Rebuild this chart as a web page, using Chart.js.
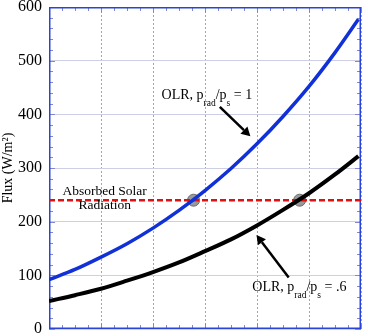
<!DOCTYPE html>
<html>
<head>
<meta charset="utf-8">
<script src="https://cdn.jsdelivr.net/npm/chart.js@4"></script>
<style>
  html, body { margin: 0; padding: 0; background: #fff; }
  #wrap { width: 368px; height: 336px; }
</style>
</head>
<body>
<div id="wrap"><canvas id="chart" width="368" height="336"></canvas></div>
<script>
const xValues = [0, 0.5, 1, 1.5, 2, 2.5, 3, 3.5, 4, 4.5, 5, 5.5, 5.95];
const olrFull = [92, 111, 134, 159, 188, 221, 258, 299, 345, 396, 452, 515, 577];
const olrPartial = [52, 63, 75, 90, 106, 124, 145, 167, 193, 222, 253, 288, 322];
const absorbed = 240;
const crossings = [2.78, 4.82];
const yTicks = [0, 100, 200, 300, 400, 500, 600];

const serif = "'Liberation Serif', 'DejaVu Serif', serif";

function toPoints(xs, ys) {
  return xs.map((x, i) => ({ x: x, y: ys[i] }));
}

// minor ticks, border and annotations
const extras = {
  id: "extras",
  beforeDatasetsDraw(chart) {
    const { ctx, chartArea: a, scales: { x, y } } = chart;
    ctx.save();
    ctx.strokeStyle = "#8088d0";
    ctx.lineWidth = 1;
    for (let v = 0; v <= 6.001; v += 0.25) {
      const px = Math.round(x.getPixelForValue(v)) + 0.5;
      const len = Math.abs(v - Math.round(v)) < 0.01 ? 6 : 4;
      ctx.beginPath();
      ctx.moveTo(px, a.bottom); ctx.lineTo(px, a.bottom - len);
      ctx.moveTo(px, a.top); ctx.lineTo(px, a.top + len);
      ctx.stroke();
    }
    for (let v = 0; v <= 600; v += 20) {
      const py = Math.round(y.getPixelForValue(v)) + 0.5;
      const len = v % 100 === 0 ? 6 : 4;
      ctx.beginPath();
      ctx.moveTo(a.left, py); ctx.lineTo(a.left + len, py);
      ctx.moveTo(a.right, py); ctx.lineTo(a.right - len, py);
      ctx.stroke();
    }
    ctx.strokeStyle = "#2a44d8";
    ctx.lineWidth = 1.5;
    ctx.strokeRect(a.left + 0.75, a.top + 0.75, a.right - a.left - 1.5, a.bottom - a.top - 1.5);
    ctx.restore();
  },
  afterDatasetsDraw(chart) {
    const { ctx, scales: { x, y } } = chart;
    ctx.save();
    ctx.fillStyle = "#000";
    ctx.textBaseline = "alphabetic";

    ctx.font = "13.5px " + serif;
    ctx.textAlign = "center";
    ctx.fillText("Absorbed Solar", x.getPixelForValue(1.07), y.getPixelForValue(250));
    ctx.fillText("Radiation", x.getPixelForValue(1.07), y.getPixelForValue(223));

    function label(px, py, tail) {
      ctx.textAlign = "left";
      let cx = px;
      const parts = [
        ["OLR, p", 14, 0],
        ["rad", 9.5, 7],
        ["/p", 14, 0],
        ["s", 9.5, 7],
        [tail, 14, 0]
      ];
      parts.forEach(p => {
        ctx.font = p[1] + "px " + serif;
        ctx.fillText(p[0], cx, py + p[2]);
        cx += ctx.measureText(p[0]).width;
      });
    }
    label(x.getPixelForValue(2.165), y.getPixelForValue(429), " = 1");
    label(x.getPixelForValue(3.91), y.getPixelForValue(70), " = .6");

    function arrow(x1, y1, x2, y2) {
      const p1 = [x.getPixelForValue(x1), y.getPixelForValue(y1)];
      const p2 = [x.getPixelForValue(x2), y.getPixelForValue(y2)];
      const ang = Math.atan2(p2[1] - p1[1], p2[0] - p1[0]);
      const back = [p2[0] - 9 * Math.cos(ang), p2[1] - 9 * Math.sin(ang)];
      ctx.strokeStyle = "#000";
      ctx.lineWidth = 2.5;
      ctx.beginPath();
      ctx.moveTo(p1[0], p1[1]);
      ctx.lineTo(back[0], back[1]);
      ctx.stroke();
      ctx.beginPath();
      ctx.moveTo(p2[0], p2[1]);
      ctx.lineTo(back[0] + 5 * Math.cos(ang + Math.PI / 2), back[1] + 5 * Math.sin(ang + Math.PI / 2));
      ctx.lineTo(back[0] + 5 * Math.cos(ang - Math.PI / 2), back[1] + 5 * Math.sin(ang - Math.PI / 2));
      ctx.closePath();
      ctx.fill();
    }
    arrow(3.285, 414, 3.873, 359);
    arrow(4.61, 96, 3.99, 175);
    ctx.restore();
  }
};

new Chart(document.getElementById("chart").getContext("2d"), {
  type: "scatter",
  data: {
    datasets: [
      {
        data: toPoints(xValues, olrFull),
        showLine: true,
        borderColor: "#1030d8",
        borderWidth: 3.5,
        pointRadius: 0,
        cubicInterpolationMode: "monotone",
        fill: false
      },
      {
        data: toPoints(xValues, olrPartial),
        showLine: true,
        borderColor: "#000",
        borderWidth: 4,
        pointRadius: 0,
        cubicInterpolationMode: "monotone",
        fill: false
      },
      {
        data: [{ x: 0, y: absorbed }, { x: 6, y: absorbed }],
        showLine: true,
        borderColor: "#e01010",
        borderWidth: 2.5,
        borderDash: [6, 3],
        pointRadius: 0,
        fill: false
      },
      {
        data: crossings.map(c => ({ x: c, y: absorbed })),
        showLine: false,
        pointRadius: 6,
        pointBackgroundColor: "#9a9a9a",
        pointBorderColor: "#6a6a6a",
        pointBorderWidth: 1
      }
    ]
  },
  options: {
    responsive: false,
    animation: false,
    layout: { padding: { top: 4, right: 3, left: 0, bottom: 0 } },
    plugins: { legend: { display: false }, tooltip: { enabled: false } },
    scales: {
      x: {
        type: "linear",
        min: 0,
        max: 6,
        ticks: { display: false, stepSize: 1 },
        border: { display: false, dash: [2, 2] },
        grid: { color: "#9aa0dc", drawTicks: false },
        afterFit(scale) {
          scale.height = 6;
          scale.paddingLeft = 0;
          scale.paddingRight = 0;
        }
      },
      y: {
        min: 0,
        max: 600,
        afterBuildTicks(scale) { scale.ticks = yTicks.map(v => ({ value: v })); },
        ticks: {
          color: "#000",
          padding: 7,
          font: { family: serif, size: 16 }
        },
        border: { display: false },
        grid: { color: "#cdd0e4", drawTicks: false },
        title: {
          display: true,
          text: "Flux (W/m²)",
          color: "#000",
          font: { family: serif, size: 14 },
          padding: { top: 0, bottom: 0 }
        },
        afterFit(scale) {
          scale.width = 49;
          scale.paddingTop = 0;
          scale.paddingBottom = 0;
        }
      }
    }
  },
  plugins: [extras]
});
</script>
</body>
</html>
